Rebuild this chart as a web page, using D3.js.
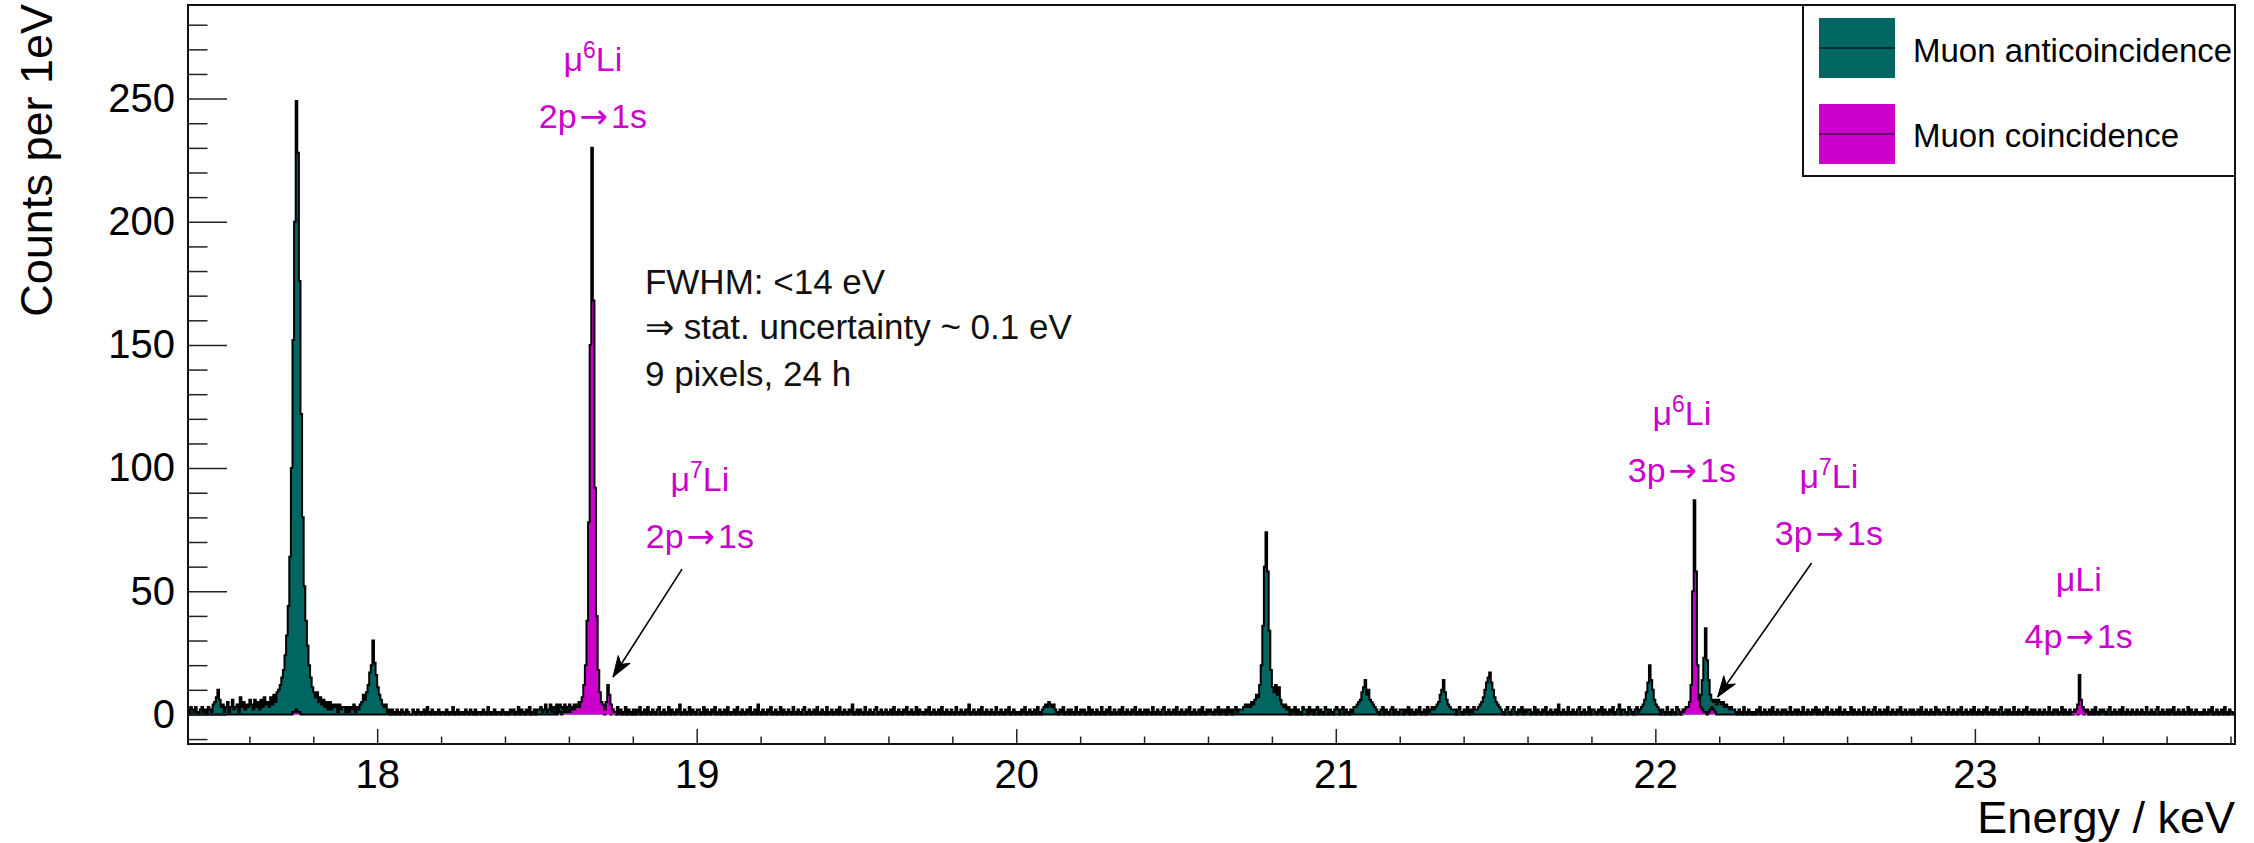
<!DOCTYPE html>
<html>
<head>
<meta charset="utf-8">
<script src="https://cdn.jsdelivr.net/npm/d3@7"></script>
<style>
  html, body { margin: 0; padding: 0; background: #ffffff; }
  svg { display: block; font-family: "Liberation Sans", Arial, Helvetica, sans-serif; }
</style>
</head>
<body>
<svg id="chart" width="2254" height="843"></svg>
<script>
// ---------------------------------------------------------------------------
// Spectrum data: counts per 1 eV, stored in 5 eV wide bins
// ---------------------------------------------------------------------------
const binStart = 17.405;   // keV, lower edge of the first bin
const binWidth = 0.005;    // keV

// Muon anticoincidence spectrum, one row = 100 eV (20 bins)
const antiCounts = [
  2,0,3,2,1,3,1,0,2,3,1,2,0,3,2,1,4,5,7,10,          // 17.405
  6,3,4,1,3,5,1,3,6,2,3,4,1,7,3,5,2,4,3,6,           // 17.505
  4,2,6,3,5,2,6,3,7,4,5,3,7,4,8,5,9,10,12,15,        // 17.605
  18,24,32,44,64,100,152,200,249,228,176,122,80,52,38,28,20,15,11,9, // 17.705
  7,9,5,7,4,6,3,5,2,5,2,4,3,4,1,4,2,3,3,1,           // 17.805
  3,1,3,2,4,1,3,2,4,5,8,6,9,12,17,20,30,21,16,11,    // 17.905
  8,6,4,3,4,1,2,0,2,1,0,2,1,0,2,1,0,2,1,0,           // 18.005
  0,2,1,0,2,1,0,1,2,0,3,1,0,2,1,0,1,2,0,1,           // 18.105
  1,0,2,1,0,1,3,0,1,2,0,1,1,0,2,1,0,2,1,0,           // 18.205
  2,0,1,1,0,2,1,0,3,1,0,1,2,0,1,1,0,2,1,0,           // 18.305
  1,0,2,1,2,0,1,3,0,2,1,0,2,1,3,0,1,2,0,2,           // 18.405
  2,3,1,2,4,1,2,4,1,3,2,4,1,4,3,2,4,1,3,4,           // 18.505
  3,1,4,3,2,5,3,1,3,2,3,1,3,2,1,3,2,1,2,1,           // 18.605
  2,0,3,1,2,0,2,1,0,3,1,2,0,1,3,0,2,1,0,2,           // 18.705
  0,2,1,3,0,1,2,0,3,1,0,2,1,0,2,3,0,1,2,0,           // 18.805
  1,3,0,2,1,0,2,1,4,0,1,2,0,1,3,0,2,1,0,2,           // 18.905
  2,0,1,3,0,2,1,0,2,1,3,0,1,2,0,1,2,0,3,1,           // 19.005
  0,1,2,0,3,1,0,2,1,0,2,1,3,0,1,2,0,4,1,0,           // 19.105
  2,1,0,2,1,3,0,1,2,0,1,3,0,2,1,0,2,1,0,3,           // 19.205
  1,0,2,1,0,2,3,0,1,2,0,1,2,0,3,1,0,2,1,0,           // 19.305
  3,0,1,2,0,1,2,0,3,1,0,2,1,0,2,1,4,0,1,2,           // 19.405
  0,2,1,0,3,1,0,2,1,0,2,3,0,1,2,0,1,2,0,1,           // 19.505
  2,0,3,1,0,2,1,0,2,1,3,0,1,2,0,1,3,0,2,1,           // 19.605
  1,0,2,1,3,0,1,2,0,1,2,0,3,1,0,2,1,0,2,1,           // 19.705
  0,3,1,0,2,1,0,2,1,4,0,1,2,0,1,2,0,3,1,0,           // 19.805
  2,1,0,2,1,0,3,1,0,2,1,0,2,1,3,0,1,2,0,1,           // 19.905
  1,0,2,1,3,0,1,2,0,1,2,0,3,1,0,2,3,4,3,5,           // 20.005
  4,3,4,2,1,0,2,1,3,0,1,2,0,2,1,0,3,1,0,2,           // 20.105
  1,2,0,1,3,0,2,1,0,2,1,0,3,1,0,2,1,3,0,1,           // 20.205
  2,0,1,2,0,3,1,0,2,1,0,2,1,3,0,1,2,0,1,2,           // 20.305
  0,2,1,0,3,1,0,2,1,0,2,3,0,1,2,0,1,2,0,3,           // 20.405
  1,0,2,1,0,2,1,3,0,1,2,0,1,2,0,3,1,0,2,1,           // 20.505
  2,1,0,2,1,3,0,2,1,2,0,3,1,2,0,2,3,1,2,2,           // 20.605
  2,3,4,3,4,3,5,4,6,8,7,12,20,36,60,74,58,34,18,11,  // 20.705
  9,12,8,11,6,4,3,4,2,3,0,2,1,3,0,2,1,0,3,2,         // 20.805
  2,0,3,1,2,0,2,3,0,2,1,0,3,2,0,2,1,0,2,3,           // 20.905
  2,0,2,3,0,2,1,0,2,1,3,3,4,5,6,9,11,14,8,10,        // 21.005
  6,5,4,3,2,1,0,2,3,0,2,1,0,2,3,0,2,1,0,2,           // 21.105
  2,0,2,1,3,0,2,1,0,2,1,3,0,1,2,0,3,1,2,3,           // 21.205
  2,3,4,5,8,10,14,9,6,4,3,2,2,2,0,2,3,1,0,2,         // 21.305
  1,3,0,2,1,3,2,2,3,4,5,7,10,13,15,17,13,10,7,5,     // 21.405
  4,3,2,1,0,2,3,1,0,2,3,1,0,2,1,3,0,2,1,2,           // 21.505
  2,0,1,3,0,2,1,0,2,1,3,0,1,2,0,1,2,0,4,1,           // 21.605
  0,2,1,0,3,1,0,2,1,0,2,3,0,1,2,0,1,3,0,2,           // 21.705
  2,1,0,2,1,3,0,2,1,0,2,1,3,0,1,2,4,0,2,2,           // 21.805
  1,0,3,2,1,0,2,3,1,2,3,4,6,9,13,20,14,10,6,4,       // 21.905
  3,2,0,2,1,0,3,1,0,2,1,0,3,2,1,0,2,1,3,2,           // 22.005
  2,3,2,3,3,4,5,8,14,23,35,22,14,8,6,5,6,4,6,5,      // 22.105
  4,5,3,4,3,2,3,2,2,1,0,2,1,0,3,1,0,2,1,0,           // 22.205
  1,0,2,1,3,0,1,2,0,1,2,0,3,1,0,2,1,0,2,1,           // 22.305
  2,0,1,3,0,1,2,0,2,1,0,3,1,0,2,1,0,2,1,3,           // 22.405
  0,2,1,0,2,1,3,0,1,2,0,1,2,0,3,1,0,2,1,0,           // 22.505
  1,3,0,2,1,0,2,1,0,3,1,0,2,1,0,2,3,0,1,2,           // 22.605
  0,1,2,0,3,1,0,2,1,0,2,1,3,0,1,2,0,1,2,0,           // 22.705
  2,0,1,2,0,3,1,0,2,1,0,2,1,0,3,1,2,0,1,2,           // 22.805
  1,0,3,1,0,2,1,0,2,1,3,0,1,2,0,1,2,0,3,1,           // 22.905
  0,2,1,0,2,1,3,0,1,2,0,2,1,0,2,3,0,1,2,0,           // 23.005
  2,1,0,3,1,0,2,1,0,2,1,3,0,1,2,0,2,1,0,2,           // 23.105
  1,0,2,1,0,3,1,0,2,1,2,0,1,3,0,2,1,0,2,1,           // 23.205
  0,2,1,0,2,1,3,0,1,2,0,1,2,0,3,1,0,2,1,2,           // 23.305
  1,0,2,3,0,1,2,0,1,2,0,3,1,0,2,1,0,2,1,0,           // 23.405
  2,1,0,2,1,0,3,1,0,2,1,0,2,3,0,1,2,0,1,2,           // 23.505
  0,2,1,3,0,1,2,0,1,2,0,1,3,0,2,1,0,2,1,0,           // 23.605
  1,0,2,1,0,2,1,3,0,1,2,0,1,2,0,3,1,0,2,1,           // 23.705
  1,0                                                // 23.805
];

// Muon coincidence spectrum: only the regions with counts, same binning
const coinStarts = [17.735, 18.550, 22.080, 23.295];   // keV, lower edge of each run
const coinRuns = [
  [1,1,2,1,1],
  [0,1,0,1,1,0,1,2,1,2,1,2,3,2,3,4,3,5,7,12,20,38,78,150,230,168,92,40,18,9,5,4,2,5,12,8,4,2,1,1,0,1,0],
  [1,1,2,3,3,5,12,50,87,58,20,6,3,2,1,1,0,1,2,3,2,1],
  [0,1,1,1,2,4,16,6,3,2,1,1,0]
];

const xTickValues = [18, 19, 20, 21, 22, 23];
const yTickValues = [0, 50, 100, 150, 200, 250];
const seriesNames = ["Muon anticoincidence", "Muon coincidence"];

// Transition labels: isotope mass number, transition, label centre (keV), upper line baseline (counts)
const lineLabels = [
  { mass: "6", from: "2p", to: "1s", energy: 18.675, top: 261.2 },
  { mass: "7", from: "2p", to: "1s", energy: 19.010, top: 90.7 },
  { mass: "6", from: "3p", to: "1s", energy: 22.083, top: 117.5 },
  { mass: "7", from: "3p", to: "1s", energy: 22.543, top: 91.9 },
  { mass: "",  from: "4p", to: "1s", energy: 23.325, top: 50.1 }
];
// Arrows pointing at the weak μ7Li lines: [from keV, from counts, to keV, to counts]
const arrows = [
  [18.954, 59.0, 18.738, 15.2],
  [22.489, 61.5, 22.195, 7.1]
];
const noteLines = ["FWHM: <14 eV", "\u21D2 stat. uncertainty ~ 0.1 eV", "9 pixels, 24 h"];

// ---------------------------------------------------------------------------
// Layout
// ---------------------------------------------------------------------------
const frame = { left: 188, top: 5, right: 2235, bottom: 744 };
const teal = "#006662";
const magenta = "#cc00cc";
const font = "'Liberation Sans', Arial, Helvetica, sans-serif";

const svg = d3.select("#chart");

const x = d3.scaleLinear().domain([17.408, 23.814]).range([frame.left, frame.right]);
const y = d3.scaleLinear().domain([-12, 288]).range([frame.bottom, frame.top]);

// Full coincidence array on the common binning
const coinCounts = new Array(antiCounts.length).fill(0);
coinRuns.forEach((run, k) => {
  const i0 = Math.round((coinStarts[k] - binStart) / binWidth);
  run.forEach((v, j) => { if (i0 + j < coinCounts.length) coinCounts[i0 + j] = v; });
});

const bins = antiCounts.map((a, i) => ({ x0: binStart + i * binWidth, anti: a, coin: coinCounts[i] }));
const lastBin = bins[bins.length - 1];
const steps = bins.concat([{ x0: binStart + bins.length * binWidth, anti: lastBin.anti, coin: lastBin.coin }]);

// Clip to the frame
svg.append("defs").append("clipPath").attr("id", "plotClip")
  .append("rect")
  .attr("x", frame.left).attr("y", frame.top)
  .attr("width", frame.right - frame.left).attr("height", frame.bottom - frame.top);

const plot = svg.append("g").attr("clip-path", "url(#plotClip)");

function drawHist(key, color) {
  const area = d3.area().curve(d3.curveStepAfter)
    .x(d => x(d.x0)).y0(y(0)).y1(d => y(d[key]));
  const line = d3.line().curve(d3.curveStepAfter)
    .x(d => x(d.x0)).y(d => y(d[key]));
  plot.append("path").datum(steps).attr("d", area).attr("fill", color).attr("stroke", "none");
  plot.append("path").datum(steps).attr("d", line).attr("fill", "none")
    .attr("stroke", "#000").attr("stroke-width", 2).attr("stroke-linejoin", "miter");
}
drawHist("anti", teal);
drawHist("coin", magenta);

// ---------------------------------------------------------------------------
// Axes
// ---------------------------------------------------------------------------
const xMinor = d3.range(17.6, 23.81, 0.2).filter(v => Math.abs(v - Math.round(v)) > 1e-6);
const yMinor = d3.range(-10, 281, 10).filter(v => v % 50 !== 0);

function styleAxis(g) {
  g.select(".domain").remove();
  g.selectAll(".tick line").attr("stroke", "#222").attr("stroke-width", 1.5);
  g.selectAll(".tick text").attr("fill", "#000");
  g.attr("font-family", font).attr("font-size", 40);
}

svg.append("g").attr("transform", `translate(0,${frame.bottom})`)
  .call(d3.axisBottom(x).tickValues(xMinor).tickSize(-7.5).tickFormat(""))
  .call(styleAxis);
svg.append("g").attr("transform", `translate(0,${frame.bottom})`)
  .call(d3.axisBottom(x).tickValues(xTickValues).tickSize(-15).tickPadding(15.5).tickFormat(d3.format("d")))
  .call(styleAxis);

svg.append("g").attr("transform", `translate(${frame.left},0)`)
  .call(d3.axisLeft(y).tickValues(yMinor).tickSize(-19.5).tickFormat(""))
  .call(styleAxis);
svg.append("g").attr("transform", `translate(${frame.left},0)`)
  .call(d3.axisLeft(y).tickValues(yTickValues).tickSize(-39).tickPadding(13).tickFormat(d3.format("d")))
  .call(styleAxis);

// Frame
svg.append("rect")
  .attr("x", frame.left).attr("y", frame.top)
  .attr("width", frame.right - frame.left).attr("height", frame.bottom - frame.top)
  .attr("fill", "none").attr("stroke", "#111").attr("stroke-width", 2);

// Axis titles
svg.append("text")
  .attr("x", frame.right).attr("y", 833)
  .attr("text-anchor", "end").attr("font-family", font).attr("font-size", 45)
  .text("Energy / keV");
svg.append("text")
  .attr("transform", "rotate(-90)")
  .attr("x", -4).attr("y", 52)
  .attr("text-anchor", "end").attr("font-family", font).attr("font-size", 45)
  .text("Counts per 1eV");

// ---------------------------------------------------------------------------
// Annotations
// ---------------------------------------------------------------------------
const labelGap = 57;  // px between the two label lines
lineLabels.forEach(l => {
  const cx = x(l.energy), by = y(l.top);
  const t1 = svg.append("text").attr("x", cx).attr("y", by)
    .attr("text-anchor", "middle").attr("font-family", font).attr("font-size", 34)
    .attr("fill", magenta);
  t1.append("tspan").text("\u03BC");
  if (l.mass) {
    t1.append("tspan").attr("font-size", 23).attr("dy", -13).text(l.mass);
    t1.append("tspan").attr("dy", 13).text("Li");
  } else {
    t1.append("tspan").text("Li");
  }
  const t2 = svg.append("text").attr("x", cx).attr("y", by + labelGap)
    .attr("text-anchor", "middle").attr("font-family", font).attr("font-size", 34)
    .attr("fill", magenta);
  t2.append("tspan").text(l.from);
  t2.append("tspan").attr("font-family", "'DejaVu Sans', sans-serif").attr("dx", 3).text("\u2192");
  t2.append("tspan").attr("dx", 3).text(l.to);
});

arrows.forEach(a => {
  const sx = x(a[0]), sy = y(a[1]), tx = x(a[2]), ty = y(a[3]);
  svg.append("line").attr("x1", sx).attr("y1", sy).attr("x2", tx).attr("y2", ty)
    .attr("stroke", "#000").attr("stroke-width", 1.6);
  const ang = Math.atan2(sy - ty, sx - tx);
  const len = 22, spread = 0.33, notch = 15;
  const p1 = [tx + len * Math.cos(ang + spread), ty + len * Math.sin(ang + spread)];
  const p2 = [tx + len * Math.cos(ang - spread), ty + len * Math.sin(ang - spread)];
  const pn = [tx + notch * Math.cos(ang), ty + notch * Math.sin(ang)];
  svg.append("path")
    .attr("d", `M${tx},${ty}L${p1[0]},${p1[1]}L${pn[0]},${pn[1]}L${p2[0]},${p2[1]}Z`)
    .attr("fill", "#000").attr("stroke", "#000").attr("stroke-width", 1);
});

// Resolution note
const noteX = x(18.838);
const noteY = [170.7, 152.4, 133.3];
noteLines.forEach((s, i) => {
  svg.append("text").attr("x", noteX).attr("y", y(noteY[i]))
    .attr("font-family", font).attr("font-size", 35).attr("fill", "#111")
    .text(s);
});

// ---------------------------------------------------------------------------
// Legend
// ---------------------------------------------------------------------------
const legend = { x0: 1803, y0: 5, x1: 2235, y1: 176 };
svg.append("rect")
  .attr("x", legend.x0).attr("y", legend.y0)
  .attr("width", legend.x1 - legend.x0).attr("height", legend.y1 - legend.y0)
  .attr("fill", "#fff").attr("stroke", "#111").attr("stroke-width", 2);

[teal, magenta].forEach((c, i) => {
  const top = 18 + i * 86;
  svg.append("rect").attr("x", 1819).attr("y", top).attr("width", 76).attr("height", 60).attr("fill", c);
  svg.append("line").attr("x1", 1819).attr("x2", 1895).attr("y1", top + 30).attr("y2", top + 30)
    .attr("stroke", "#000").attr("stroke-width", 1);
  svg.append("text").attr("x", 1913).attr("y", 62 + i * 85)
    .attr("font-family", font).attr("font-size", 33).attr("fill", "#000")
    .text(seriesNames[i]);
});
</script>
</body>
</html>
